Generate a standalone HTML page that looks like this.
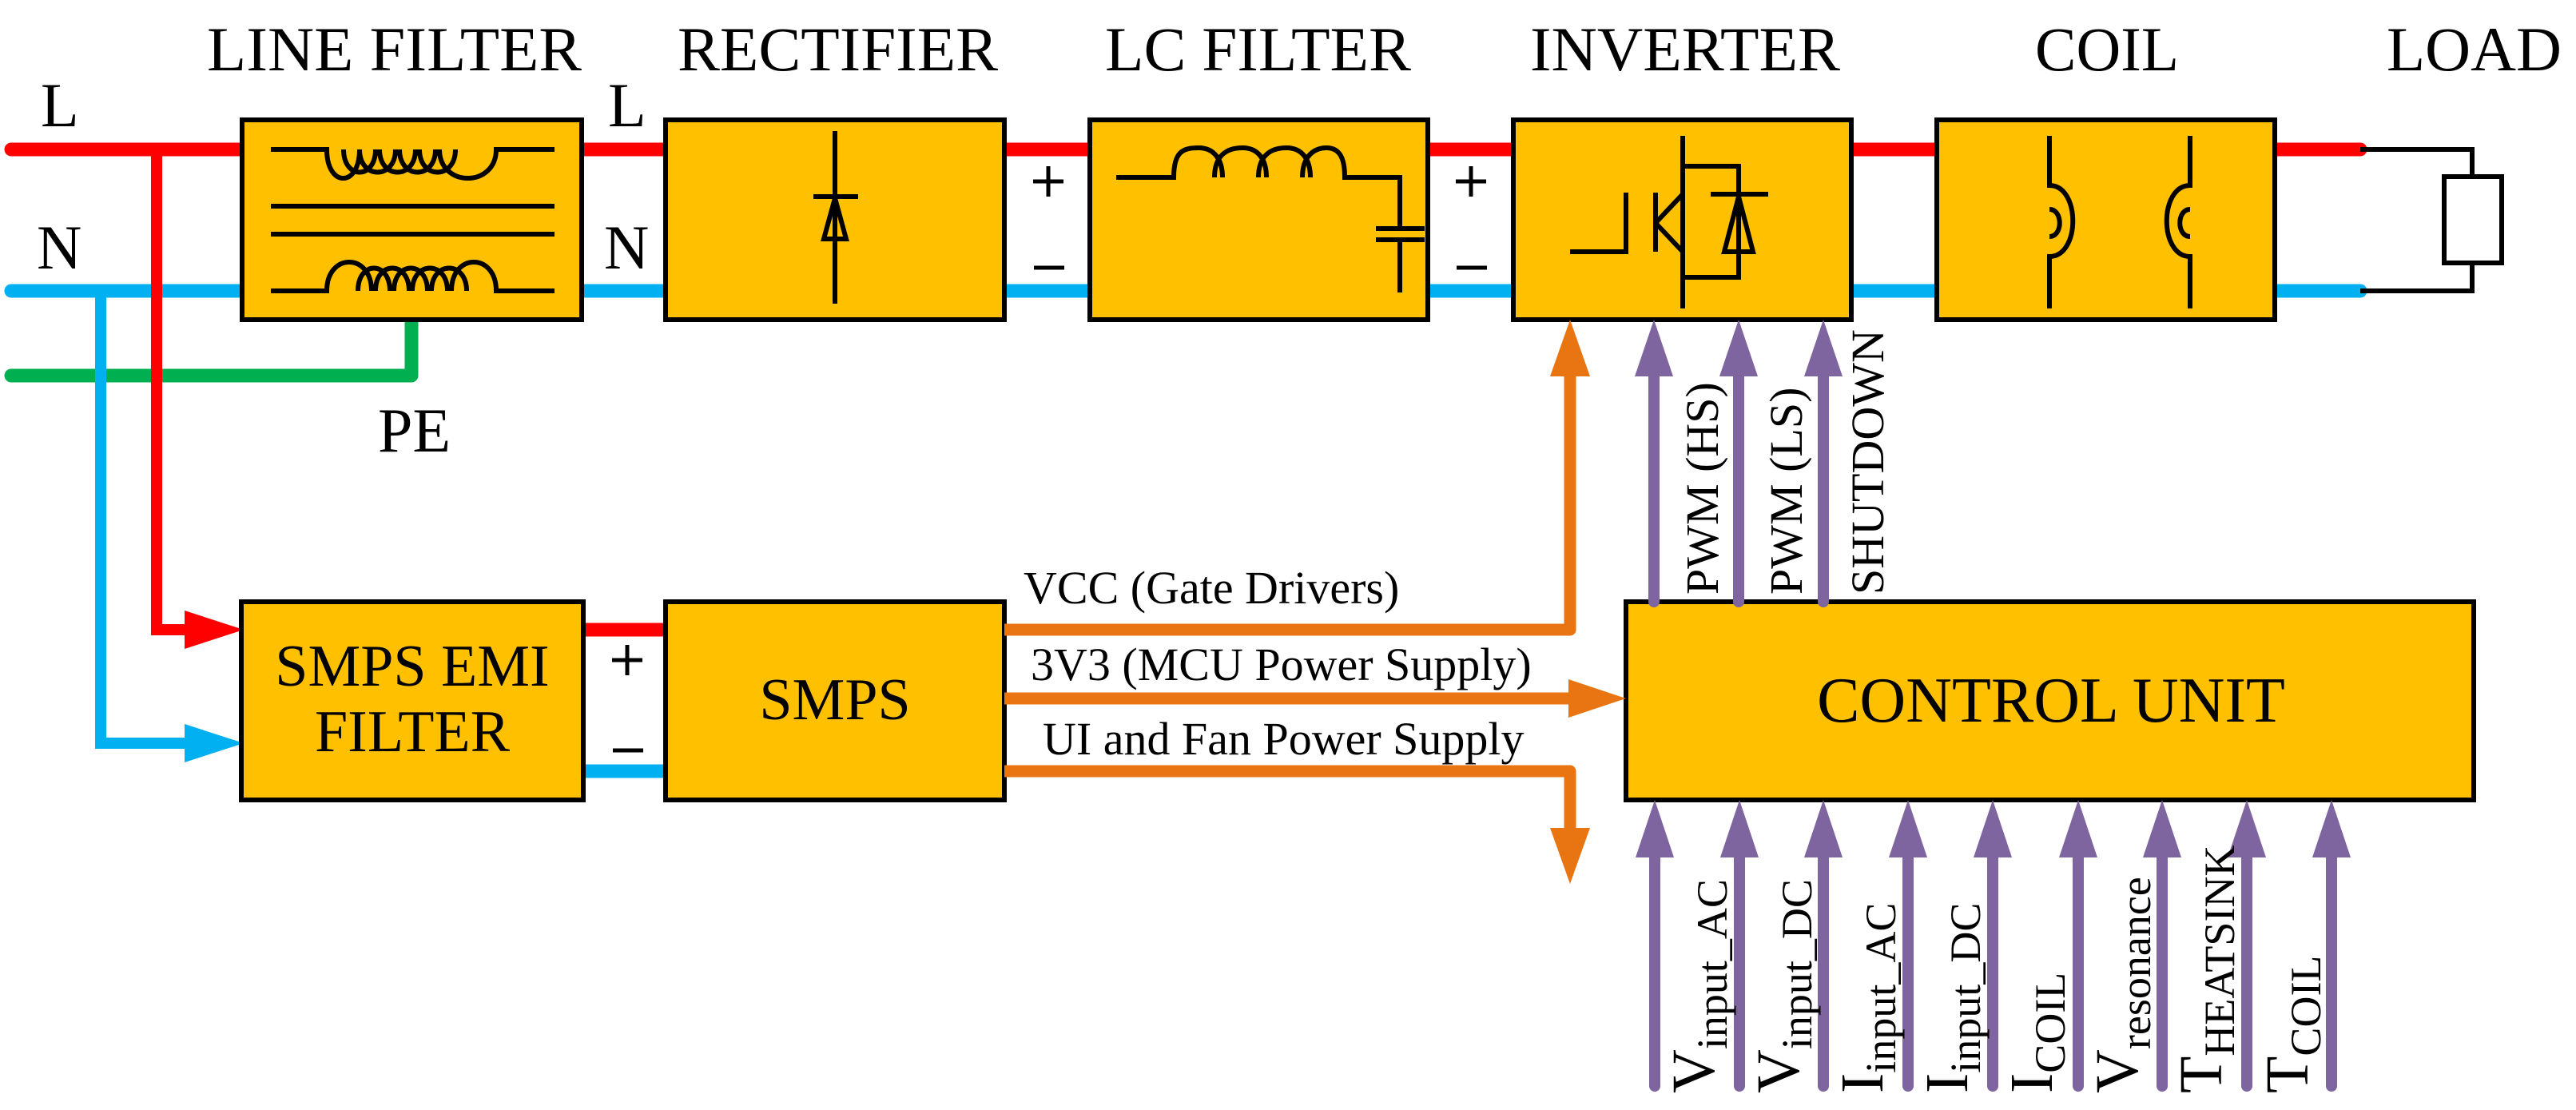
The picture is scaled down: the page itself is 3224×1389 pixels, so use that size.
<!DOCTYPE html>
<html><head><meta charset="utf-8"><style>html,body{margin:0;padding:0;background:#fff}svg{display:block}text{font-family:"Liberation Serif","Times New Roman",serif}</style></head><body>
<svg width="3224" height="1389" viewBox="0 0 3224 1389" xmlns="http://www.w3.org/2000/svg" style="font-family:'Liberation Serif','Times New Roman',serif">
<g font-size="78" fill="#000">
<text x="259" y="88" textLength="469" lengthAdjust="spacingAndGlyphs">LINE FILTER</text>
<text x="848" y="88" textLength="401" lengthAdjust="spacingAndGlyphs">RECTIFIER</text>
<text x="1383" y="88" textLength="383" lengthAdjust="spacingAndGlyphs">LC FILTER</text>
<text x="1915" y="88" textLength="388" lengthAdjust="spacingAndGlyphs">INVERTER</text>
<text x="2547" y="88" textLength="180" lengthAdjust="spacingAndGlyphs">COIL</text>
<text x="2987" y="88" textLength="219" lengthAdjust="spacingAndGlyphs">LOAD</text>
<text x="51" y="158">L</text><text x="46" y="336">N</text>
<text x="761" y="158">L</text><text x="756" y="336">N</text>
<text x="473" y="565">PE</text>
</g>
<g stroke-linecap="round" stroke-linejoin="round" fill="none" stroke-width="17">
<path d="M14 187H303M728 187H833M1257 187H1364M1787 187H1894M2317 187H2424M2847 187H2954" stroke="#FF0000"/>
<path d="M14 364H303M728 364H833M1257 364H1364M1787 364H1894M2317 364H2424M2847 364H2954" stroke="#00B0F0"/>
<path d="M14 470H515V393" stroke="#00B050"/>
<path d="M730 788H833" stroke="#FF0000"/>
<path d="M730 965H833" stroke="#00B0F0"/>
</g>
<g fill="none" stroke-width="14">
<path d="M196 187V788H240" stroke="#FF0000"/>
<path d="M126 364V930H240" stroke="#00B0F0"/>
</g>
<polygon points="231,764 305,788 231,812" fill="#FF0000"/>
<polygon points="231,906 305,930 231,954" fill="#00B0F0"/>
<g fill="#FFC000" stroke="#000" stroke-width="6">
<rect x="303" y="150" width="425" height="250"/>
<rect x="833" y="150" width="424" height="250"/>
<rect x="1364" y="150" width="423" height="250"/>
<rect x="1894" y="150" width="423" height="250"/>
<rect x="2424" y="150" width="423" height="250"/>
<rect x="302" y="753" width="428" height="248"/>
<rect x="833" y="753" width="424" height="248"/>
<rect x="2035" y="753" width="1061" height="248"/>
</g>
<g fill="none" stroke="#000" stroke-width="6">
<path d="M339 187H409 C409 235 450 235 450 187 M430 187 C430 225 470 225 470 187 M450 187 C450 225 495 225 495 187 M475 187 C475 225 520 225 520 187 M500 187 C500 225 545 225 545 187 M525 187 C525 225 570 225 570 187 M550 187 C550 235 621 235 621 187 H694"/>
<path d="M339 364H409 C409 316 465 316 465 364 M448 364 C448 326 488 326 488 364 M470 364 C470 326 512 326 512 364 M493 364 C493 326 535 326 535 364 M516 364 C516 326 560 326 560 364 M540 364 C540 326 584 326 584 364 M565 364 C565 316 621 316 621 364 H694"/>
<path d="M339 258H694M339 293H694"/>
<path d="M1045 164V380M1018 246H1074"/>
<polygon points="1045,248 1031,299 1059,299"/>
<path d="M1397 222H1469 C1469 190 1480 185 1500 185 C1520 185 1530 200 1530 222 M1520 222 C1520 195 1535 185 1555 185 C1575 185 1585 200 1585 222 M1575 222 C1575 195 1590 185 1610 185 C1630 185 1640 200 1640 222 M1630 222 C1630 195 1645 185 1660 185 C1678 185 1683 200 1683 222 H1752 V286 M1722 286H1783M1722 300H1783M1752 300V366"/>
<path d="M2106 170V386M2106 208H2176V347H2106M2141 243H2213M1965 315H2035V241M2072 241V315M2072 279L2106 243M2072 279L2106 315"/>
<polygon points="2176,246 2158,315 2194,315"/>
<path d="M2565 170V232 C2604 232 2604 321 2565 321 V386 M2565 262 C2582 262 2582 296 2565 296"/>
<path d="M2741 170V232 C2702 232 2702 321 2741 321 V386 M2741 262 C2724 262 2724 296 2741 296"/>
<path d="M2954 187H3094V221M3094 329V364H2954"/>
<rect x="3059" y="221" width="72" height="108" fill="#fff"/>
</g>
<g stroke="#000" stroke-width="5">
<path d="M1312 208V246M1293 227H1331M1294 335H1332"/>
<path d="M1841 208V246M1822 227H1860M1823 335H1861"/>
<path d="M785 807V845M766 826H804M767 939H805"/>
</g>
<g font-size="74" fill="#000" text-anchor="middle">
<text x="516" y="858">SMPS EMI</text>
<text x="516" y="940">FILTER</text>
<text x="1045" y="900">SMPS</text>
<text x="2567" y="903" font-size="80">CONTROL UNIT</text>
</g>
<g fill="none" stroke="#E87511" stroke-width="15" stroke-linejoin="round">
<path d="M1257 788H1965V465"/>
<path d="M1257 874H1970"/>
<path d="M1257 965H1965V1040"/>
</g>
<g fill="#E87511">
<polygon points="1965,400 1940,471 1990,471"/>
<polygon points="2035,874 1963,850 1963,898"/>
<polygon points="1965,1106 1940,1036 1990,1036"/>
</g>
<g font-size="58" fill="#000">
<text x="1281" y="755">VCC (Gate Drivers)</text>
<text x="1290" y="851">3V3 (MCU Power Supply)</text>
<text x="1305" y="944">UI and Fan Power Supply</text>
</g>
<g stroke="#7F65A0" stroke-width="14" stroke-linecap="round">
<path d="M2070 465V753M2176 465V753M2282 465V753"/>
<path d="M2071 1070V1359M2177 1070V1359M2282 1070V1359M2388 1070V1359M2494 1070V1359M2601 1070V1359M2706 1070V1359M2812 1070V1359M2918 1070V1359"/>
</g>
<g fill="#7F65A0">
<polygon points="2070,400 2046,471 2094,471"/><polygon points="2176,400 2152,471 2200,471"/><polygon points="2282,400 2258,471 2306,471"/>
<polygon points="2071,1001 2047,1073 2095,1073"/><polygon points="2177,1001 2153,1073 2201,1073"/><polygon points="2282,1001 2258,1073 2306,1073"/>
<polygon points="2388,1001 2364,1073 2412,1073"/><polygon points="2494,1001 2470,1073 2518,1073"/><polygon points="2601,1001 2577,1073 2625,1073"/>
<polygon points="2706,1001 2682,1073 2730,1073"/><polygon points="2812,1001 2788,1073 2836,1073"/><polygon points="2918,1001 2894,1073 2942,1073"/>
</g>
<g font-size="58" fill="#000">
<text transform="translate(2150,744) rotate(-90)">PWM (HS)</text>
<text transform="translate(2255,744) rotate(-90)">PWM (LS)</text>
<text transform="translate(2357,744) rotate(-90)">SHUTDOWN</text>
</g>
<g font-size="76" fill="#000">
<text transform="translate(2145,1368) rotate(-90)">V<tspan font-size="54" dy="16">input_AC</tspan></text>
<text transform="translate(2251,1368) rotate(-90)">V<tspan font-size="54" dy="16">input_DC</tspan></text>
<text transform="translate(2356,1368) rotate(-90)">I<tspan font-size="54" dy="16">input_AC</tspan></text>
<text transform="translate(2462,1368) rotate(-90)">I<tspan font-size="54" dy="16">input_DC</tspan></text>
<text transform="translate(2568,1368) rotate(-90)">I<tspan font-size="54" dy="16">COIL</tspan></text>
<text transform="translate(2675,1368) rotate(-90)">V<tspan font-size="54" dy="16">resonance</tspan></text>
<text transform="translate(2780,1368) rotate(-90)">T<tspan font-size="54" dy="16">HEATSINK</tspan></text>
<text transform="translate(2888,1368) rotate(-90)">T<tspan font-size="54" dy="16">COIL</tspan></text>
</g>
</svg>
</body></html>
